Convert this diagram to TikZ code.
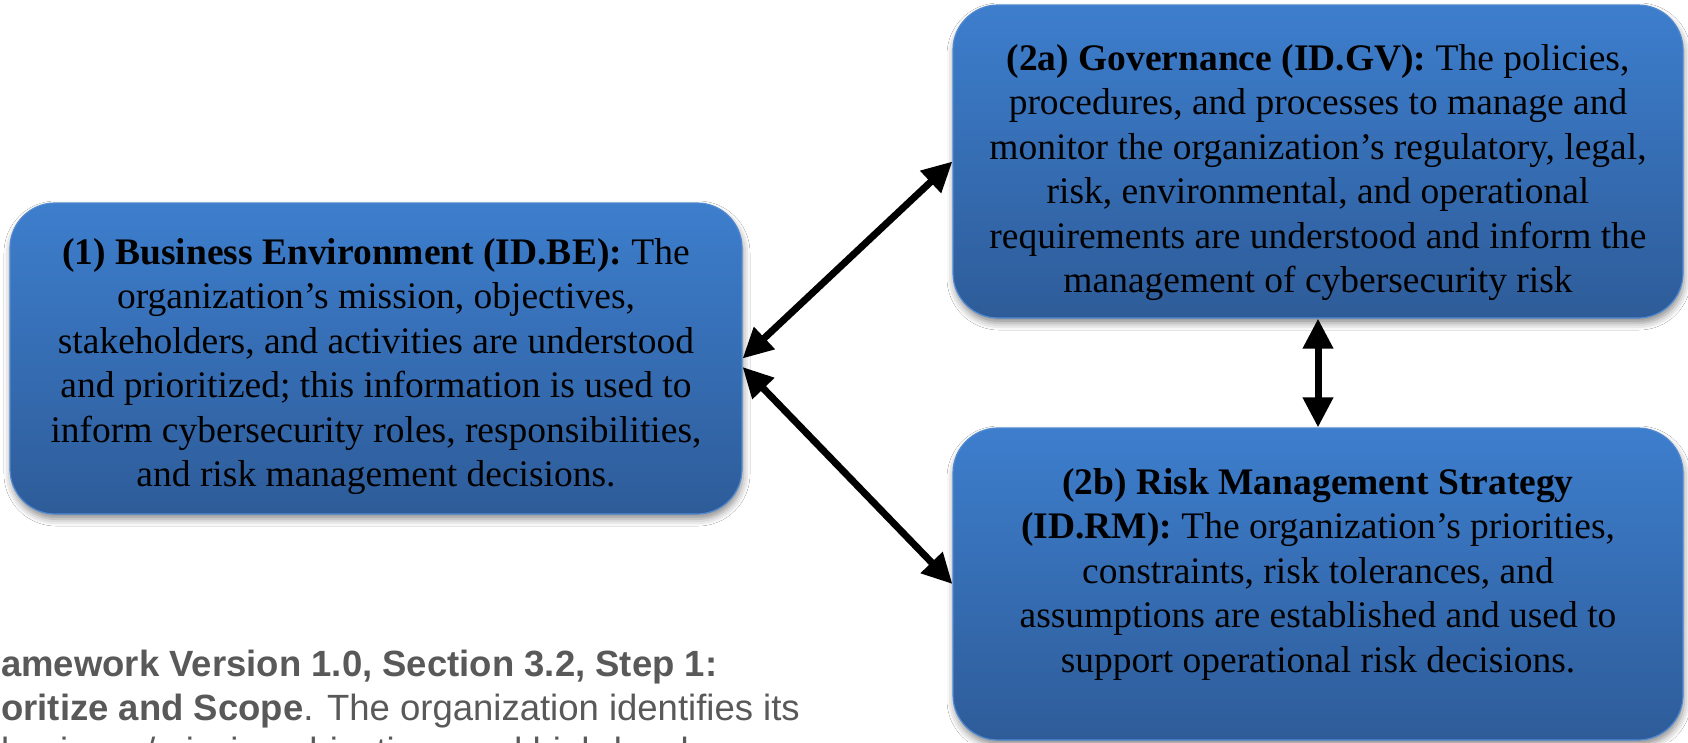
\documentclass[tikz,border=0pt]{standalone}
\usepackage{fontspec}
\setmainfont{Liberation Serif}
\newfontfamily\sansf{Liberation Sans}
\usetikzlibrary{arrows.meta,shadows.blur}
\definecolor{boxtop}{HTML}{3D7ECD}
\definecolor{boxbot}{HTML}{2E5C99}
\definecolor{boxedge}{HTML}{4F88D0}
\definecolor{graytext}{HTML}{595959}
\tikzset{
  bluebox/.style={rectangle, rounded corners=45pt, top color=boxtop, bottom color=boxbot,
    draw=boxedge, line width=1.2pt, inner sep=0pt,
    blur shadow={shadow xshift=1pt, shadow yshift=-5pt, shadow blur radius=7pt, shadow opacity=45}},
  boxtext/.style={align=center, inner sep=0pt, anchor=north, text=black,
    font=\fontsize{37.5}{44.5}\selectfont},
  dbl/.style={{Triangle[length=30pt,width=29pt]}-{Triangle[length=30pt,width=29pt]}, line width=7pt, draw=black},
  note/.style={anchor=base west, inner sep=0pt, text=graytext, font=\sansf\fontsize{36.5}{43}\selectfont},
}
\begin{document}
\begin{tikzpicture}[x=1pt,y=-1pt]
\path[use as bounding box, fill=white] (0,0) rectangle (1688,742);

\node[bluebox, minimum width=732pt, minimum height=311pt] (b1) at (376,358.5) {};
\node[bluebox, minimum width=730pt, minimum height=313pt] (gv) at (1318,161.5) {};
\node[bluebox, minimum width=730pt, minimum height=312pt] (rm) at (1318,584) {};

\node[boxtext] (t1) at (376,232.85) {\strut\textbf{(1) Business Environment (ID.BE):} The\\
organization’s mission, objectives,\\
stakeholders, and activities are understood\\
and prioritized; this information is used to\\
inform cybersecurity roles, responsibilities,\\
and risk management decisions.};

\node[boxtext] (t2) at (1318,38.85) {\strut\textbf{(2a) Governance (ID.GV):} The policies,\\
procedures, and processes to manage and\\
monitor the organization’s regulatory, legal,\\
risk, environmental, and operational\\
requirements are understood and inform the\\
management of cybersecurity risk};

\node[boxtext] (t3) at (1318,462.85) {\strut\textbf{(2b) Risk Management Strategy}\\
\textbf{(ID.RM):} The organization’s priorities,\\
constraints, risk tolerances, and\\
assumptions are established and used to\\
support operational risk decisions.};

\draw[dbl] (b1.east) -- (gv.west);
\draw[dbl] ([yshift=-8.5pt]b1.east) -- (rm.west);
\draw[dbl] (gv.south) -- (rm.north);

\node[note] (n1) at (1,676.5) {\bfseries amework Version 1.0, Section 3.2, Step 1:};
\node[note] (n2) at (1,720) {\textbf{oritize and Scope}. The organization identifies its};
\node[note] (n3) at (1,763) {business/mission objectives and high-level};
\end{tikzpicture}
\end{document}
